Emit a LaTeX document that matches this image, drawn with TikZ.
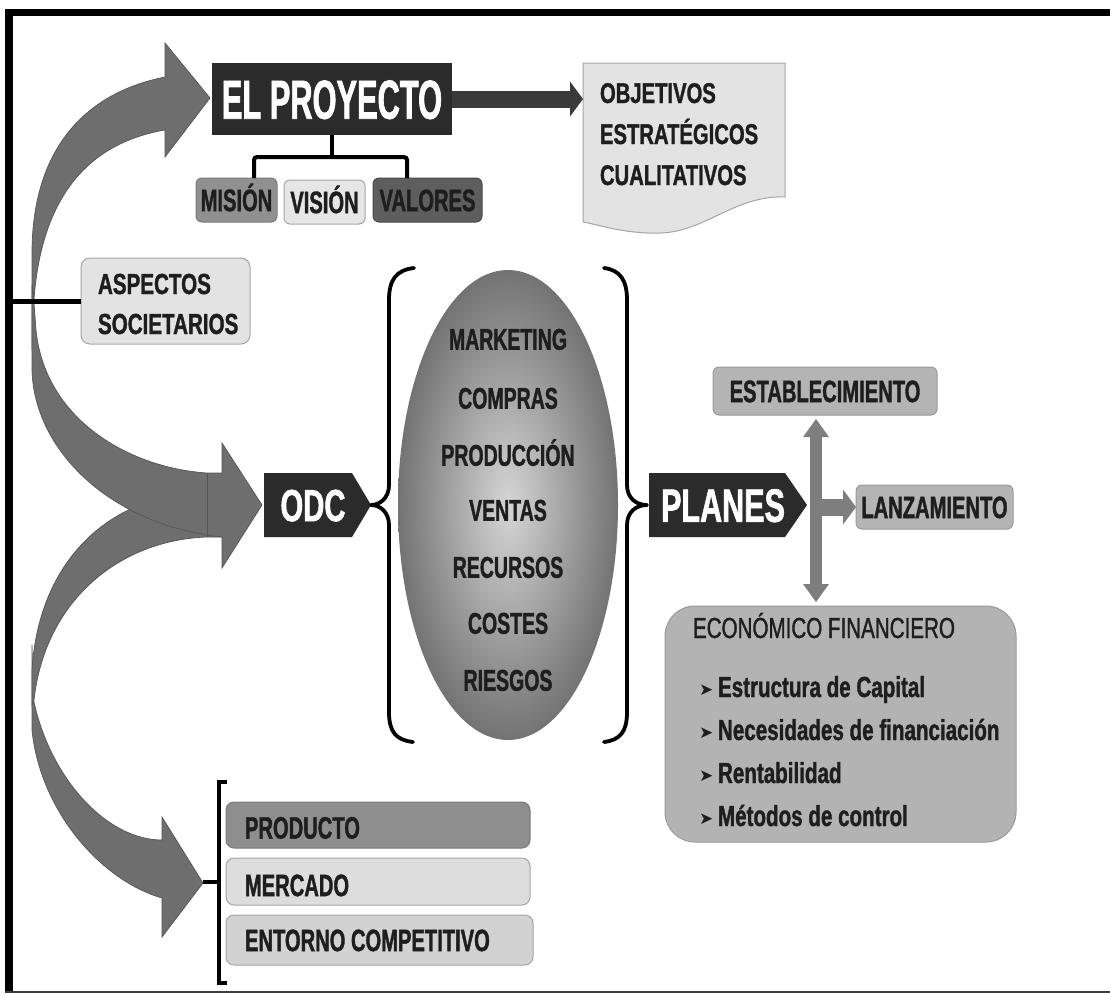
\documentclass[tikz,border=0pt]{standalone}
\usepackage{fontspec}
\setmainfont{Liberation Sans}
\newfontfamily\fA[FakeStretch=0.56, BoldFeatures={FakeBold=1.2}]{Liberation Sans}
\newfontfamily\fB[FakeStretch=0.65, BoldFeatures={FakeBold=1.2}]{Liberation Sans}
\newfontfamily\fC[FakeStretch=0.71, BoldFeatures={FakeBold=1.2}]{Liberation Sans}
\newfontfamily\fD[FakeStretch=0.71, FakeBold=1.2]{Liberation Sans}
\newfontfamily\fsym{DejaVu Sans}
\usetikzlibrary{arrows.meta,shapes.geometric}
\definecolor{dk}{HTML}{2B2B2B}
\definecolor{barc}{HTML}{3A3A3A}
\definecolor{agray}{HTML}{6E6E6E}
\definecolor{adark}{HTML}{555555}
\definecolor{tx}{HTML}{1E1E1E}
\definecolor{lg}{HTML}{E3E3E3}
\definecolor{bdr}{HTML}{A5A5A5}
\definecolor{misf}{HTML}{909090}
\definecolor{misd}{HTML}{7A7A7A}
\definecolor{visf}{HTML}{E6E6E6}
\definecolor{valf}{HTML}{5E5E5E}
\definecolor{vald}{HTML}{4A4A4A}
\definecolor{estf}{HTML}{B4B4B4}
\definecolor{estd}{HTML}{9A9A9A}
\definecolor{ecof}{HTML}{B3B3B3}
\definecolor{dgray}{HTML}{7E7E7E}
\definecolor{prodf}{HTML}{8E8E8E}
\definecolor{mercf}{HTML}{DDDDDD}
\definecolor{entf}{HTML}{D2D2D2}
\definecolor{ellin}{HTML}{D6D6D6}
\definecolor{ellout}{HTML}{737373}
\definecolor{frc}{HTML}{3C3C3C}
\begin{document}
\begin{tikzpicture}[x=1pt,y=-1pt,
  every node/.style={inner sep=0pt, outer sep=0pt},
  fbig/.style={font=\fB\bfseries\fontsize{31}{31}\selectfont, text height=22.2pt, text depth=0pt, text=tx},
  fell/.style={font=\fB\bfseries\fontsize{30}{30}\selectfont, text height=21.5pt, text depth=0pt, text=tx},
  fsmall/.style={font=\fC\bfseries\fontsize{29}{29}\selectfont, text=tx, anchor=base west},
  fobj/.style={font=\fC\bfseries\fontsize{28.5}{28.5}\selectfont, text=tx, anchor=base west},
  fbul/.style={font=\fsym\fontsize{17}{17}\selectfont, text=tx, anchor=base west},
  darkbox/.style={fill=dk},
  lbox/.style={draw=bdr, line width=1pt, rounded corners=6pt},
  bigarrow/.style={fill=agray, draw=adark, line width=0.7pt},
  blk/.style={line width=4pt, black},
  brace/.style={line width=3.8pt, black, line cap=round, line join=round}
]
\useasboundingbox (0,0) rectangle (1110,994);
\fill[white] (0,0) rectangle (1110,994);
% frame
\fill[black] (5,9) rectangle (1110,16);
\fill[black] (5,9) rectangle (13,993);
\fill[frc] (5,990.5) rectangle (1110,993);

% ---------- left curved arrows ----------
% A : to EL PROYECTO
\path[bigarrow] (32,350) -- (32,253) .. controls (32,160) and (75,95) .. (165,77)
  -- (165,43) -- (210,98) -- (165,157) -- (165,130)
  .. controls (95,142) and (36,190) .. (33,320) -- cycle;
% D : to PRODUCTO
\path[bigarrow] (32,645) -- (32,730) .. controls (40,810) and (100,880) .. (162,898)
  -- (162,937) -- (203,883) -- (162,817) -- (162,840)
  .. controls (105,840) and (48,775) .. (33,697) -- cycle;
% C : to ODC from below
\path[bigarrow] (32,705) -- (32,670) .. controls (38,570) and (100,490) .. (222,490)
  -- (222,537) -- (207,537) .. controls (120,540) and (45,600) .. (34,700) -- cycle;
% B : to ODC from above
\path[bigarrow] (32,285) -- (32,370) .. controls (34,450) and (110,525) .. (222,537)
  -- (222,568) -- (262,505) -- (222,443) -- (222,473) -- (207,473)
  .. controls (130,468) and (45,420) .. (36,330) -- (33,290) -- cycle;
\draw[adark, line width=0.8pt] (207,473) -- (207,537);
\coordinate (tipD) at (203,882);

% ---------- EL PROYECTO ----------
\node[darkbox, minimum width=240pt, minimum height=72pt,
      font=\fA\bfseries\fontsize{55}{55}\selectfont, text height=39.4pt, text depth=0pt,
      text=white] (proj) at (332,99) {EL PROYECTO};

% OBJETIVOS document shape
\filldraw[fill=lg, draw=bdr, line width=1pt] (583,63) -- (785,63) -- (785,197)
  .. controls (735,195) and (705,232) .. (660,233)
  .. controls (625,234) and (600,225) .. (583,222) -- cycle;
\node[minimum width=202pt, minimum height=160pt] (obj) at (684,143) {};
\node[fobj] (o1) at (600,103) {OBJETIVOS};
\node[fobj] (o2) at (600,144) {ESTRATÉGICOS};
\node[fobj] (o3) at (600,185) {CUALITATIVOS};
\draw[barc, line width=17pt, -{Triangle[length=13pt,width=35pt,line width=0pt]}]
  (proj.east) -- (proj.east -| obj.west);

% MISION VISION VALORES
\node[lbox, fill=misf, draw=misd, minimum width=81pt, minimum height=44pt, fbig] (mis) at (236.5,200) {MISIÓN};
\node[lbox, fill=visf, draw=bdr, minimum width=81pt, minimum height=44pt, fbig] (vis) at (324.5,202) {VISIÓN};
\node[lbox, fill=valf, draw=vald, minimum width=109pt, minimum height=44pt, fbig] (val) at (427.5,200) {VALORES};
\draw[blk] (proj.south) -- ++(0,22) coordinate (tj);
\draw[blk, rounded corners=3pt] ([xshift=17.5pt]mis.north) |- (tj) -| ([xshift=-20.5pt]val.north);

% ASPECTOS SOCIETARIOS
\node[lbox, fill=lg, rounded corners=9pt, minimum width=169pt, minimum height=86pt] (asp) at (165.5,301) {};
\node[fsmall] (a1) at (98,294) {ASPECTOS};
\node[fsmall] (a2) at (98,334) {SOCIETARIOS};
\coordinate (frameL) at (13,301);
\draw[line width=5pt, black] (asp.west) -- (frameL);

% ---------- ODC ----------
\fill[dk] (264,473) -- (352,473) -- (371,505) -- (352,537) -- (264,537) -- cycle;
\node[font=\fB\bfseries\fontsize{45}{45}\selectfont, text height=32.2pt, text depth=0pt, text=white] (odc) at (313,505) {ODC};
\coordinate (odctip) at (371,505);

% ellipse
\node[ellipse, minimum width=220pt, minimum height=470pt, inner color=ellin, outer color=ellout] (ell) at (508,505) {};
\node[fell] (m1) at (508,339) {MARKETING};
\node[fell] (m2) at (508,398) {COMPRAS};
\node[fell] (m3) at (508,455) {PRODUCCIÓN};
\node[fell] (m4) at (508,510) {VENTAS};
\node[fell] (m5) at (508,567) {RECURSOS};
\node[fell] (m6) at (508,623) {COSTES};
\node[fell] (m7) at (508,680) {RIESGOS};

% braces
\draw[brace] (414,268) .. controls (396,270) and (389,280) .. (389,300) -- (389,485)
  .. controls (389,498) and (380,505) .. (odctip)
  .. controls (380,505) and (389,512) .. (389,525) -- (389,712)
  .. controls (389,732) and (396,740) .. (413,742);
\coordinate (plantip) at (647,505);
\draw[brace] (604,268) .. controls (620,270) and (627,280) .. (627,300) -- (627,485)
  .. controls (627,498) and (636,505) .. (plantip)
  .. controls (636,505) and (627,512) .. (627,525) -- (627,712)
  .. controls (627,732) and (620,740) .. (604,742);

% ---------- PLANES ----------
\fill[dk] (649,473) -- (785,473) -- (807,505) -- (785,537) -- (649,537) -- cycle;
\node[font=\fB\bfseries\fontsize{47}{47}\selectfont, text height=33.7pt, text depth=0pt, text=white] (plan) at (723,505) {PLANES};

\node[lbox, fill=estf, draw=estd, minimum width=224pt, minimum height=48pt, fbig] (est) at (825,391) {ESTABLECIMIENTO};
\node[lbox, fill=estf, draw=estd, minimum width=157pt, minimum height=44pt, fbig] (lanz) at (934.5,507) {LANZAMIENTO};
\node[fill=ecof, draw=estd, line width=1pt, rounded corners=30pt, minimum width=351pt, minimum height=236pt] (eco) at (840.5,724) {};

\coordinate (vt) at (816,419);
\coordinate (vb) at (816,602);
\coordinate (vmid) at (816,507);
\draw[dgray, line width=12pt, {Triangle[length=18pt,width=26pt,line width=0pt]}-{Triangle[length=18pt,width=26pt,line width=0pt]}] (vb) -- (vt);
\draw[dgray, line width=17pt, -{Triangle[length=13pt,width=35pt,line width=0pt]}] (vmid) -- (vmid -| lanz.west);

\node[font=\fD\fontsize{29}{29}\selectfont, text=tx, anchor=base west] (eh) at (693,638) {ECONÓMICO FINANCIERO};
\node[fbul] (b1) at (699,695) {➤};
\node[fsmall] (e1) at (718,697) {Estructura de Capital};
\node[fbul] (b2) at (699,738) {➤};
\node[fsmall] (e2) at (718,740) {Necesidades de financiación};
\node[fbul] (b3) at (699,781) {➤};
\node[fsmall] (e3) at (718,783) {Rentabilidad};
\node[fbul] (b4) at (699,824) {➤};
\node[fsmall] (e4) at (718,826) {Métodos de control};

% ---------- bottom list ----------
\node[lbox, fill=prodf, draw=misd, rounded corners=8pt, minimum width=304pt, minimum height=46pt] (prod) at (378,825) {};
\node[lbox, fill=mercf, draw=bdr, rounded corners=8pt, minimum width=304pt, minimum height=47pt] (merc) at (378,881.5) {};
\node[lbox, fill=entf, draw=bdr, rounded corners=8pt, minimum width=307pt, minimum height=50pt] (ent) at (379.5,940) {};
\node[fbig, anchor=west] (pt) at (245,827.5) {PRODUCTO};
\node[fbig, anchor=west] (mt) at (245,885) {MERCADO};
\node[fbig, anchor=west] (et) at (245,940) {ENTORNO COMPETITIVO};
\draw[blk, line join=miter] (227,782) -- (219,782) -- (219,983) -- (227,983);
\coordinate (brk) at (219,882);
\draw[blk] (tipD) -- (brk);
\end{tikzpicture}
\end{document}
